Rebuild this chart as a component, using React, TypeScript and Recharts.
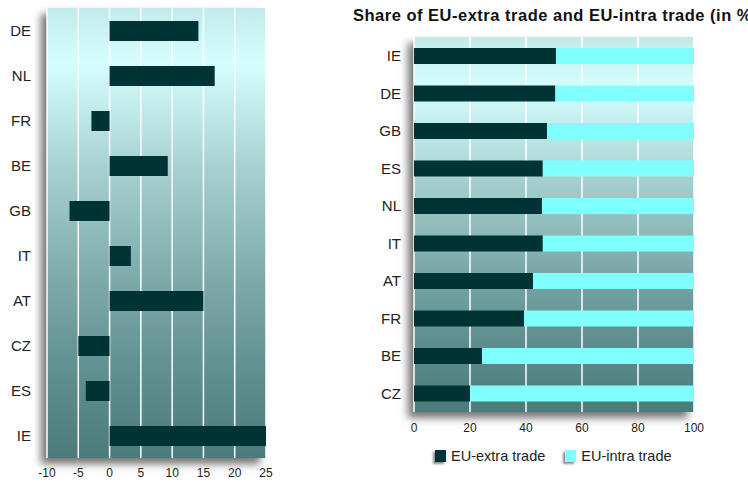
import { BarChart, Bar, XAxis, YAxis, CartesianGrid, Legend } from "recharts";

// left chart: change values by country
const leftCountries = ["DE", "NL", "FR", "BE", "GB", "IT", "AT", "CZ", "ES", "IE"];
const leftValues = [14.2, 16.8, -2.9, 9.3, -6.4, 3.4, 15.0, -5.0, -3.8, 25];
const leftTicks = [-10, -5, 0, 5, 10, 15, 20, 25];

// right chart: share of extra / intra trade
const rightCountries = ["IE", "DE", "GB", "ES", "NL", "IT", "AT", "FR", "BE", "CZ"];
const extraShare = [50.7, 50.5, 47.5, 46.0, 45.7, 46.0, 42.5, 39.3, 24.3, 20.0];
const intraShare = extraShare.map((v) => +(100 - v).toFixed(1));
const rightTicks = [0, 20, 40, 60, 80, 100];

const leftData = leftCountries.map((c, i) => ({ country: c, value: leftValues[i] }));
const rightData = rightCountries.map((c, i) => ({
  country: c,
  extra: extraShare[i],
  intra: intraShare[i],
}));

const DARK = "#003333";
const CYAN = "#80ffff";
const font = "'Liberation Sans', Arial, sans-serif";

function LegendBox() {
  const items = [
    { label: "EU-extra trade", color: DARK },
    { label: "EU-intra trade", color: CYAN },
  ];
  return (
    <div style={{ display: "flex", alignItems: "center", height: 20, fontFamily: font, fontSize: 14.5, color: "#222" }}>
      {items.map((it) => (
        <div key={it.label} style={{ display: "flex", alignItems: "center", marginRight: 20 }}>
          <span
            style={{
              width: 11,
              height: 12,
              background: it.color,
              boxShadow: "-2px 2px 2px rgba(0,0,0,0.45)",
              marginRight: 5,
              display: "inline-block",
            }}
          />
          {it.label}
        </div>
      ))}
    </div>
  );
}

export default function App() {
  return (
    <div style={{ position: "absolute", left: 0, top: 0, width: 748, height: 482, overflow: "hidden", background: "#fff", fontFamily: font }}>
      <svg width={0} height={0} style={{ position: "absolute" }}>
        <defs>
          <linearGradient id="bgLeft" x1="0" y1="0" x2="0" y2="1">
            <stop offset="0" stopColor="#c2eaea" />
            <stop offset="0.12" stopColor="#d6fefe" />
            <stop offset="0.35" stopColor="#a8d2d2" />
            <stop offset="0.6" stopColor="#7eaaaa" />
            <stop offset="0.82" stopColor="#5e8e8e" />
            <stop offset="1" stopColor="#4c7b7b" />
          </linearGradient>
          <linearGradient id="bgRight" x1="0" y1="0" x2="0" y2="1">
            <stop offset="0" stopColor="#c2eaea" />
            <stop offset="0.14" stopColor="#d6fefe" />
            <stop offset="0.38" stopColor="#a6d0d0" />
            <stop offset="0.62" stopColor="#7aa8a8" />
            <stop offset="0.84" stopColor="#5a8a8a" />
            <stop offset="1" stopColor="#4c7b7b" />
          </linearGradient>
        </defs>
      </svg>

      {/* plot shadows */}
      <div style={{ position: "absolute", left: 47, top: 8, width: 219, height: 450, boxShadow: "-6px 6px 8px rgba(0,0,0,0.55)" }} />
      <div style={{ position: "absolute", left: 414, top: 37, width: 280, height: 375, boxShadow: "-6px 6px 8px rgba(0,0,0,0.55)" }} />

      <div style={{ position: "absolute", left: 0, top: 0 }}>
        <BarChart width={280} height={482} data={leftData} layout="vertical" margin={{ top: 8, right: 14, left: 0, bottom: 0 }}>
          <CartesianGrid horizontal={false} stroke="#ffffff" strokeWidth={1.5} fill="url(#bgLeft)" fillOpacity={1} />
          <XAxis
            type="number"
            domain={[-10, 25]}
            ticks={leftTicks}
            allowDataOverflow
            height={24}
            axisLine={false}
            tickLine={false}
            tickSize={6}
            tickMargin={4}
            tick={{ fill: "#222", fontSize: 12, fontFamily: font }}
          />
          <YAxis
            type="category"
            dataKey="country"
            width={47}
            axisLine={false}
            tickLine={false}
            tickSize={6}
            tickMargin={10}
            tick={{ fill: "#222", fontSize: 15, fontFamily: font }}
          />
          <Bar dataKey="value" fill={DARK} barSize={20} isAnimationActive={false} />
        </BarChart>
      </div>

      <div
        style={{
          position: "absolute",
          left: 353,
          top: 6,
          whiteSpace: "nowrap",
          fontWeight: "bold",
          fontSize: 16.5,
          letterSpacing: 0.5,
          color: "#111",
        }}
      >
        Share of EU-extra trade and EU-intra trade (in %)
      </div>

      <div style={{ position: "absolute", left: 340, top: 0 }}>
        <BarChart width={408} height={482} data={rightData} layout="vertical" margin={{ top: 37, right: 54, left: 0, bottom: 16 }}>
          <CartesianGrid horizontal={false} stroke="#ffffff" strokeWidth={1.5} fill="url(#bgRight)" fillOpacity={1} />
          <XAxis
            type="number"
            domain={[0, 100]}
            ticks={rightTicks}
            height={34}
            axisLine={false}
            tickLine={false}
            tickSize={6}
            tickMargin={5}
            tick={{ fill: "#222", fontSize: 12, fontFamily: font }}
          />
          <YAxis
            type="category"
            dataKey="country"
            width={74}
            axisLine={false}
            tickLine={false}
            tickSize={6}
            tickMargin={7}
            tick={{ fill: "#222", fontSize: 15, fontFamily: font }}
          />
          <Legend verticalAlign="bottom" height={20} wrapperStyle={{ left: 95, width: 300 }} content={() => <LegendBox />} />
          <Bar dataKey="extra" stackId="s" fill={DARK} barSize={16} isAnimationActive={false} />
          <Bar dataKey="intra" stackId="s" fill={CYAN} barSize={16} isAnimationActive={false} />
        </BarChart>
      </div>
    </div>
  );
}
